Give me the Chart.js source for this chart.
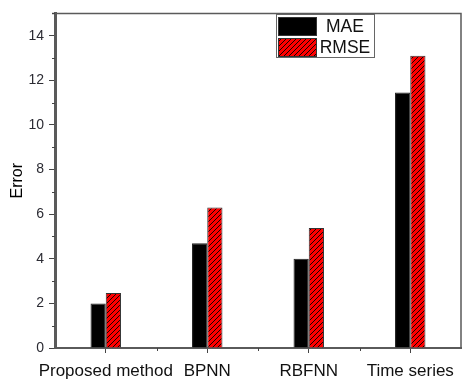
<!DOCTYPE html>
<html>
<head>
<meta charset="utf-8">
<script src="https://cdn.jsdelivr.net/npm/chart.js@4/dist/chart.umd.min.js"></script>
<style>
  html, body { margin: 0; padding: 0; background: #fff; }
  #wrap { width: 462px; height: 379px; }
</style>
</head>
<body>
<div id="wrap"><canvas id="errChart"></canvas></div>
<script>
// Error per method
const categories = ['Proposed method', 'BPNN', 'RBFNN', 'Time series'];
const maeValues = [2.0, 4.7, 4.0, 11.45];
const rmseValues = [2.47, 6.3, 5.38, 13.1];
const yTicks = [0, 2, 4, 6, 8, 10, 12, 14];
const yMinorTicks = [1, 3, 5, 7, 9, 11, 13, 15];
const seriesNames = ['MAE', 'RMSE'];

const AXIS_COLOR = '#5a5a5a';
const LABEL_COLOR = '#2b2b33';
const FONT = 'Arial, "Liberation Sans", sans-serif';

// red fill with black "/" hatching
function makeHatch() {
  const size = 5;
  const c = document.createElement('canvas');
  c.width = size;
  c.height = size;
  const g = c.getContext('2d');
  g.fillStyle = '#ff0000';
  g.fillRect(0, 0, size, size);
  g.strokeStyle = '#000';
  g.lineWidth = 0.9;
  g.beginPath();
  g.moveTo(-1, size + 1);
  g.lineTo(size + 1, -1);
  g.moveTo(-1, 1);
  g.lineTo(1, -1);
  g.moveTo(size - 1, size + 1);
  g.lineTo(size + 1, size - 1);
  g.stroke();
  return g.createPattern(c, 'repeat');
}

const hatch = makeHatch();

// minor ticks, top/right frame and the boxed legend
const framePlugin = {
  id: 'frame',
  afterDraw(chart) {
    const ctx = chart.ctx;
    const area = chart.chartArea;
    const x = chart.scales.x;
    const y = chart.scales.y;

    ctx.save();
    ctx.strokeStyle = AXIS_COLOR;
    ctx.lineWidth = 1.5;
    ctx.beginPath();
    ctx.moveTo(area.left - 3, area.top);
    ctx.lineTo(area.right, area.top);
    ctx.lineTo(area.right, area.bottom);
    ctx.stroke();

    ctx.lineWidth = 1;
    ctx.strokeStyle = '#444';
    ctx.beginPath();
    yMinorTicks.forEach(v => {
      const py = Math.round(y.getPixelForValue(v)) + 0.5;
      ctx.moveTo(area.left - 3, py);
      ctx.lineTo(area.left, py);
    });
    for (let i = 0; i < categories.length - 1; i++) {
      const px = Math.round((x.getPixelForValue(i) + x.getPixelForValue(i + 1)) / 2) + 0.5;
      ctx.moveTo(px, area.bottom);
      ctx.lineTo(px, area.bottom + 3);
    }
    ctx.stroke();

    // legend box
    const lx = 276, ly = 14, lw = 98, lh = 43;
    ctx.fillStyle = '#fff';
    ctx.fillRect(lx, ly, lw, lh);
    ctx.strokeStyle = '#666';
    ctx.lineWidth = 1;
    ctx.strokeRect(lx + 0.5, ly + 0.5, lw, lh);

    const swatches = [
      { fill: '#000', y: 17 },
      { fill: hatch, y: 38 }
    ];
    ctx.font = '17.5px ' + FONT;
    ctx.textAlign = 'center';
    ctx.textBaseline = 'middle';
    swatches.forEach((s, i) => {
      ctx.fillStyle = s.fill;
      ctx.fillRect(278, s.y, 38, 18);
      ctx.strokeStyle = '#333';
      ctx.strokeRect(278.5, s.y + 0.5, 38, 18);
      ctx.fillStyle = '#111';
      ctx.fillText(seriesNames[i], 345, s.y + 10);
    });
    ctx.restore();
  }
};

new Chart(document.getElementById('errChart'), {
  type: 'bar',
  data: {
    labels: categories,
    datasets: [
      {
        label: seriesNames[0],
        data: maeValues,
        backgroundColor: '#000',
        borderColor: '#222',
        borderWidth: 1,
        categoryPercentage: 0.3,
        barPercentage: 1
      },
      {
        label: seriesNames[1],
        data: rmseValues,
        backgroundColor: hatch,
        borderColor: '#333',
        borderWidth: 1,
        categoryPercentage: 0.3,
        barPercentage: 1
      }
    ]
  },
  options: {
    responsive: true,
    maintainAspectRatio: false,
    animation: false,
    layout: {
      padding: { top: 13, right: 1, left: 0, bottom: 0 }
    },
    plugins: {
      legend: { display: false },
      tooltip: { enabled: false }
    },
    scales: {
      x: {
        afterFit: scale => { scale.height = 31; },
        border: { color: AXIS_COLOR, width: 2 },
        grid: {
          offset: false,
          drawOnChartArea: false,
          drawTicks: true,
          tickLength: 5,
          color: '#444'
        },
        ticks: {
          color: '#111',
          padding: 8,
          autoSkip: false,
          maxRotation: 0,
          font: { family: FONT, size: 17 }
        }
      },
      y: {
        min: 0,
        max: 15,
        afterFit: scale => { scale.width = 55; },
        afterBuildTicks: scale => {
          scale.ticks = yTicks.map(v => ({ value: v }));
        },
        border: { color: AXIS_COLOR, width: 3 },
        grid: {
          drawOnChartArea: false,
          drawTicks: true,
          tickLength: 6,
          color: '#444'
        },
        ticks: {
          color: LABEL_COLOR,
          padding: 5,
          font: { family: FONT, size: 14 }
        },
        title: {
          display: true,
          text: 'Error',
          color: '#000',
          padding: { top: 8, bottom: 0 },
          font: { family: FONT, size: 16 }
        }
      }
    }
  },
  plugins: [framePlugin]
});
</script>
</body>
</html>
